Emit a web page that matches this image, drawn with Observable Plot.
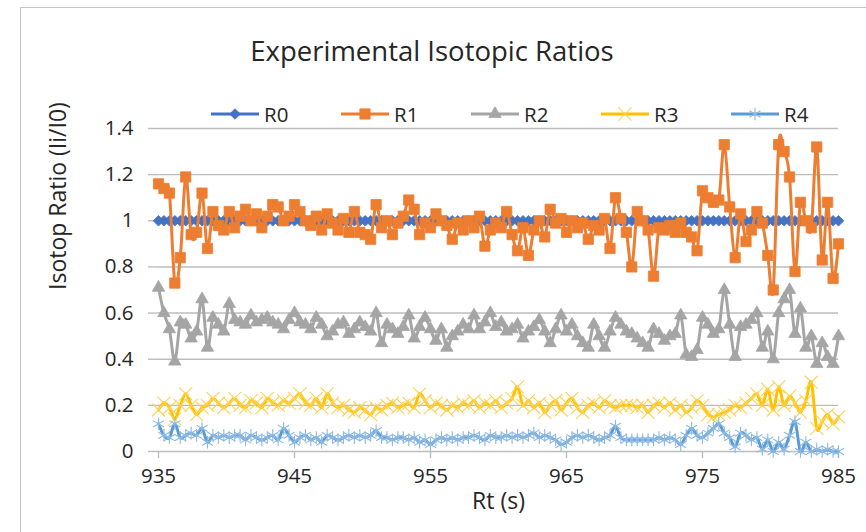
<!DOCTYPE html>
<html>
<head>
<meta charset="utf-8">
<script src="https://cdn.jsdelivr.net/npm/d3@7"></script>
<script src="https://cdn.jsdelivr.net/npm/@observablehq/plot@0.6"></script>
<style>
  html, body { margin: 0; padding: 0; background: #fff; }
  #wrap { position: relative; width: 866px; height: 532px; overflow: hidden; background: #fff; font-family: "Open Sans", sans-serif; }
  #border { position: absolute; left: 20px; top: 7px; width: 900px; height: 600px; border-left: 1.5px solid #c4c4c4; border-top: 1.5px solid #c4c4c4; pointer-events: none; }
  #title { height: 104px; position: relative; }
  #title span { position: absolute; left: 0; width: 864px; text-align: center; top: 37px; font-size: 27.5px; line-height: 1; color: #262626; }
  #legend { position: absolute; top: 104px; left: 211px; height: 20px; display: flex; }
  .item { width: 130px; display: flex; align-items: center; height: 20px; }
  .item span { font-size: 20.5px; color: #262626; margin-left: 5px; line-height: 20px; }
  #chart { position: absolute; top: 104px; left: 0; }
</style>
</head>
<body>
<div id="wrap">
  <div id="border"></div>
  <div id="title"><span id="titletext"></span></div>
  <div id="chart"></div>
  <div id="legend"></div>
</div>
<script>
const titleText = "Experimental Isotopic Ratios";
const xLabel = ["Rt (s)"];
const yLabel = ["Isotop Ratio (Ii/I0)"];
const xTicks = [935, 945, 955, 965, 975, 985];
const xTickLabels = ["935", "945", "955", "965", "975", "985"];
const yTicks = [0, 0.2, 0.4, 0.6, 0.8, 1, 1.2, 1.4];
const yTickLabels = ["0", "0.2", "0.4", "0.6", "0.8", "1", "1.2", "1.4"];
const seriesNames = ["R0", "R1", "R2", "R3", "R4"];

const rt = [
935.0,935.4,935.8,936.2,936.6,937.0,937.4,937.8,938.2,938.6,
939.0,939.4,939.8,940.2,940.6,941.0,941.4,941.8,942.2,942.6,
943.0,943.4,943.8,944.2,944.6,945.0,945.4,945.8,946.2,946.6,
947.0,947.4,947.8,948.2,948.6,949.0,949.4,949.8,950.2,950.6,
951.0,951.4,951.8,952.2,952.6,953.0,953.4,953.8,954.2,954.6,
955.0,955.4,955.8,956.2,956.6,957.0,957.4,957.8,958.2,958.6,
959.0,959.4,959.8,960.2,960.6,961.0,961.4,961.8,962.2,962.6,
963.0,963.4,963.8,964.2,964.6,965.0,965.4,965.8,966.2,966.6,
967.0,967.4,967.8,968.2,968.6,969.0,969.4,969.8,970.2,970.6,
971.0,971.4,971.8,972.2,972.6,973.0,973.4,973.8,974.2,974.6,
975.0,975.4,975.8,976.2,976.6,977.0,977.4,977.8,978.2,978.6,
979.0,979.4,979.8,980.2,980.6,981.0,981.4,981.8,982.2,982.6,
983.0,983.4,983.8,984.2,984.6,985.0];

const R0 = [
1,1,1,1,1,1,1,1,1,1, 1,1,1,1,1,1,1,1,1,1, 1,1,1,1,1,1,1,1,1,1,
1,1,1,1,1,1,1,1,1,1, 1,1,1,1,1,1,1,1,1,1, 1,1,1,1,1,1,1,1,1,1,
1,1,1,1,1,1,1,1,1,1, 1,1,1,1,1,1,1,1,1,1, 1,1,1,1,1,1,1,1,1,1,
1,1,1,1,1,1,1,1,1,1, 1,1,1,1,1,1,1,1,1,1, 1,1,1,1,1,1,1,1,1,1,
1,1,1,1,1,1];

const R1 = [
1.16,1.14,1.12,0.73,0.84,1.19,0.94,0.95,1.12,0.88,
1.04,0.98,0.96,1.04,0.97,1.02,1.05,1.00,1.03,0.97,
1.02,1.07,1.06,1.00,1.02,1.07,1.04,1.00,0.98,1.02,
0.96,1.03,0.99,0.96,1.01,0.95,1.04,0.95,0.94,0.92,
1.07,0.97,1.00,0.94,0.99,1.02,1.09,1.05,0.94,0.99,
0.97,1.03,1.00,0.98,0.92,0.99,0.96,1.00,0.97,1.02,
0.89,0.96,0.99,0.97,1.04,0.94,0.87,0.97,0.85,0.96,
1.00,0.93,1.05,0.99,1.01,0.95,1.00,0.97,0.99,0.92,
0.98,0.96,1.01,0.88,1.10,1.01,0.95,0.80,1.04,1.00,
0.96,0.76,0.97,0.96,0.98,0.95,0.99,0.95,0.93,0.87,
1.13,1.10,1.08,1.09,1.33,1.06,0.84,1.03,0.91,0.96,
1.04,0.99,0.85,0.70,1.33,1.30,1.19,0.78,1.08,1.00,
0.97,1.32,0.83,1.08,0.75,0.90];

const R2 = [
0.71,0.60,0.53,0.39,0.56,0.55,0.49,0.52,0.66,0.45,
0.58,0.55,0.52,0.64,0.57,0.56,0.55,0.59,0.56,0.57,
0.58,0.56,0.55,0.53,0.57,0.60,0.56,0.55,0.53,0.58,
0.55,0.50,0.52,0.55,0.56,0.51,0.53,0.56,0.54,0.52,
0.60,0.47,0.55,0.53,0.51,0.54,0.59,0.49,0.54,0.58,
0.53,0.48,0.53,0.45,0.50,0.52,0.55,0.53,0.59,0.53,
0.56,0.60,0.54,0.56,0.52,0.53,0.55,0.49,0.52,0.54,
0.57,0.52,0.47,0.53,0.59,0.52,0.55,0.50,0.47,0.45,
0.55,0.50,0.45,0.52,0.58,0.55,0.52,0.51,0.49,0.47,
0.45,0.53,0.51,0.48,0.50,0.51,0.59,0.42,0.41,0.44,
0.58,0.55,0.51,0.53,0.70,0.55,0.41,0.54,0.55,0.57,
0.60,0.45,0.52,0.40,0.60,0.66,0.70,0.51,0.62,0.45,
0.50,0.38,0.47,0.41,0.38,0.50];

const R3 = [
0.18,0.21,0.19,0.14,0.20,0.25,0.20,0.16,0.19,0.20,
0.23,0.21,0.19,0.21,0.23,0.20,0.19,0.22,0.21,0.19,
0.23,0.21,0.20,0.22,0.21,0.23,0.25,0.21,0.20,0.23,
0.19,0.25,0.21,0.19,0.20,0.18,0.17,0.19,0.18,0.16,
0.19,0.18,0.20,0.21,0.19,0.20,0.21,0.19,0.25,0.22,
0.19,0.21,0.20,0.18,0.20,0.19,0.21,0.20,0.22,0.19,
0.21,0.20,0.22,0.19,0.21,0.23,0.28,0.20,0.22,0.19,
0.21,0.17,0.20,0.22,0.18,0.21,0.23,0.19,0.17,0.20,
0.21,0.19,0.22,0.20,0.19,0.20,0.20,0.20,0.19,0.20,
0.17,0.20,0.21,0.19,0.21,0.18,0.20,0.17,0.19,0.22,
0.20,0.16,0.15,0.16,0.17,0.18,0.20,0.19,0.21,0.23,
0.25,0.20,0.27,0.18,0.28,0.20,0.24,0.21,0.17,0.22,
0.30,0.10,0.13,0.16,0.12,0.15];

const R4 = [
0.12,0.07,0.06,0.12,0.06,0.07,0.08,0.07,0.10,0.04,
0.07,0.06,0.07,0.06,0.07,0.07,0.05,0.07,0.06,0.05,
0.06,0.07,0.05,0.10,0.07,0.04,0.06,0.07,0.05,0.06,
0.04,0.07,0.06,0.05,0.06,0.07,0.06,0.07,0.06,0.07,
0.09,0.06,0.06,0.05,0.06,0.06,0.05,0.06,0.04,0.05,
0.03,0.05,0.06,0.05,0.06,0.05,0.06,0.06,0.07,0.06,
0.05,0.07,0.06,0.06,0.07,0.06,0.07,0.06,0.07,0.08,
0.06,0.07,0.06,0.05,0.03,0.04,0.06,0.07,0.06,0.07,
0.06,0.05,0.06,0.07,0.11,0.06,0.05,0.05,0.05,0.05,
0.05,0.05,0.06,0.05,0.06,0.05,0.03,0.07,0.10,0.07,
0.06,0.08,0.10,0.12,0.08,0.06,0.02,0.08,0.07,0.05,
0.06,0.01,0.05,0.00,0.04,0.01,0.07,0.13,0.00,0.04,
0.00,0.01,0.00,0.01,0.00,0.00];

const seriesValues = [R0, R1, R2, R3, R4];
const colors = ["#4472C4", "#ED7D31", "#A5A5A5", "#FFC000", "#5B9BD5"];
const markerColors = ["#4472C4", "#ED7D31", "#A5A5A5", "#FFD24D", "#8DB9E3"];
const symbols = ["diamond2", "square", "triangle", "times", "asterisk"];
const d3symbols = [d3.symbolDiamond2, d3.symbolSquare, d3.symbolTriangle, d3.symbolTimes, d3.symbolAsterisk];
const radii = [4.8, 5.8, 4.6, 6, 6];
const filled = [true, true, true, false, false];

const grid = "#bdbdbd";
const textColor = "#262626";

document.getElementById("titletext").textContent = titleText;

const rows = seriesValues.map((vals, k) => vals.map((v, i) => ({t: rt[i], v, s: seriesNames[k]})));

const marks = [
  Plot.gridY(yTicks, {stroke: grid, strokeOpacity: 1, strokeWidth: 1.4}),
  Plot.axisY(yTicks, {anchor: "left", tickSize: 10, stroke: grid, strokeWidth: 1.4, tickFormat: () => "", label: null}),
  Plot.axisX(xTicks, {anchor: "bottom", tickSize: 7, stroke: grid, strokeWidth: 1.4, tickFormat: () => "", label: null}),
  Plot.text(yTicks, {y: d => d, text: d => yTickLabels[yTicks.indexOf(d)], frameAnchor: "left", dx: -25, textAnchor: "end", fontSize: 20.5, fill: textColor}),
  Plot.text(xTicks, {x: d => d, text: d => xTickLabels[xTicks.indexOf(d)], frameAnchor: "bottom", dy: 31, fontSize: 20.5, fill: textColor}),
  Plot.text(xLabel, {frameAnchor: "bottom", text: d => d, dy: 57, fontSize: 23, fill: textColor}),
  Plot.text(yLabel, {frameAnchor: "left", text: d => d, dx: -100, rotate: -90, fontSize: 23, fill: textColor})
];

rows.forEach((data, k) => {
  marks.push(Plot.line(data, {x: "t", y: "v", stroke: colors[k], strokeWidth: 3, curve: "cardinal", tension: 0}));
  if (filled[k]) {
    marks.push(Plot.dot(data, {x: "t", y: "v", symbol: symbols[k], r: radii[k], fill: markerColors[k], stroke: markerColors[k], strokeWidth: 0.8}));
  } else {
    marks.push(Plot.dot(data, {x: "t", y: "v", symbol: symbols[k], r: radii[k], fill: "none", stroke: markerColors[k], strokeWidth: 1.1}));
  }
});

const chart = Plot.plot({
  width: 866,
  height: 428,
  marginLeft: 158,
  marginRight: 28,
  marginTop: 24,
  marginBottom: 81,
  style: {fontFamily: "Open Sans", fontSize: "20px", background: "transparent", overflow: "visible"},
  x: {domain: [935, 985]},
  y: {domain: [0, 1.4]},
  marks
});
document.getElementById("chart").appendChild(chart);

// legend
const legend = document.getElementById("legend");
seriesNames.forEach((name, k) => {
  const item = document.createElement("div");
  item.className = "item";
  const svg = d3.create("svg").attr("width", 48).attr("height", 20);
  svg.append("line").attr("x1", 0).attr("x2", 48).attr("y1", 10).attr("y2", 10)
    .attr("stroke", colors[k]).attr("stroke-width", 3);
  svg.append("path")
    .attr("d", d3.symbol(d3symbols[k], radii[k] * radii[k] * Math.PI)())
    .attr("transform", "translate(24,10)")
    .attr("fill", filled[k] ? markerColors[k] : "none")
    .attr("stroke", markerColors[k])
    .attr("stroke-width", filled[k] ? 0.8 : 1.1);
  item.appendChild(svg.node());
  const label = document.createElement("span");
  label.textContent = name;
  item.appendChild(label);
  legend.appendChild(item);
});
</script>
</body>
</html>
